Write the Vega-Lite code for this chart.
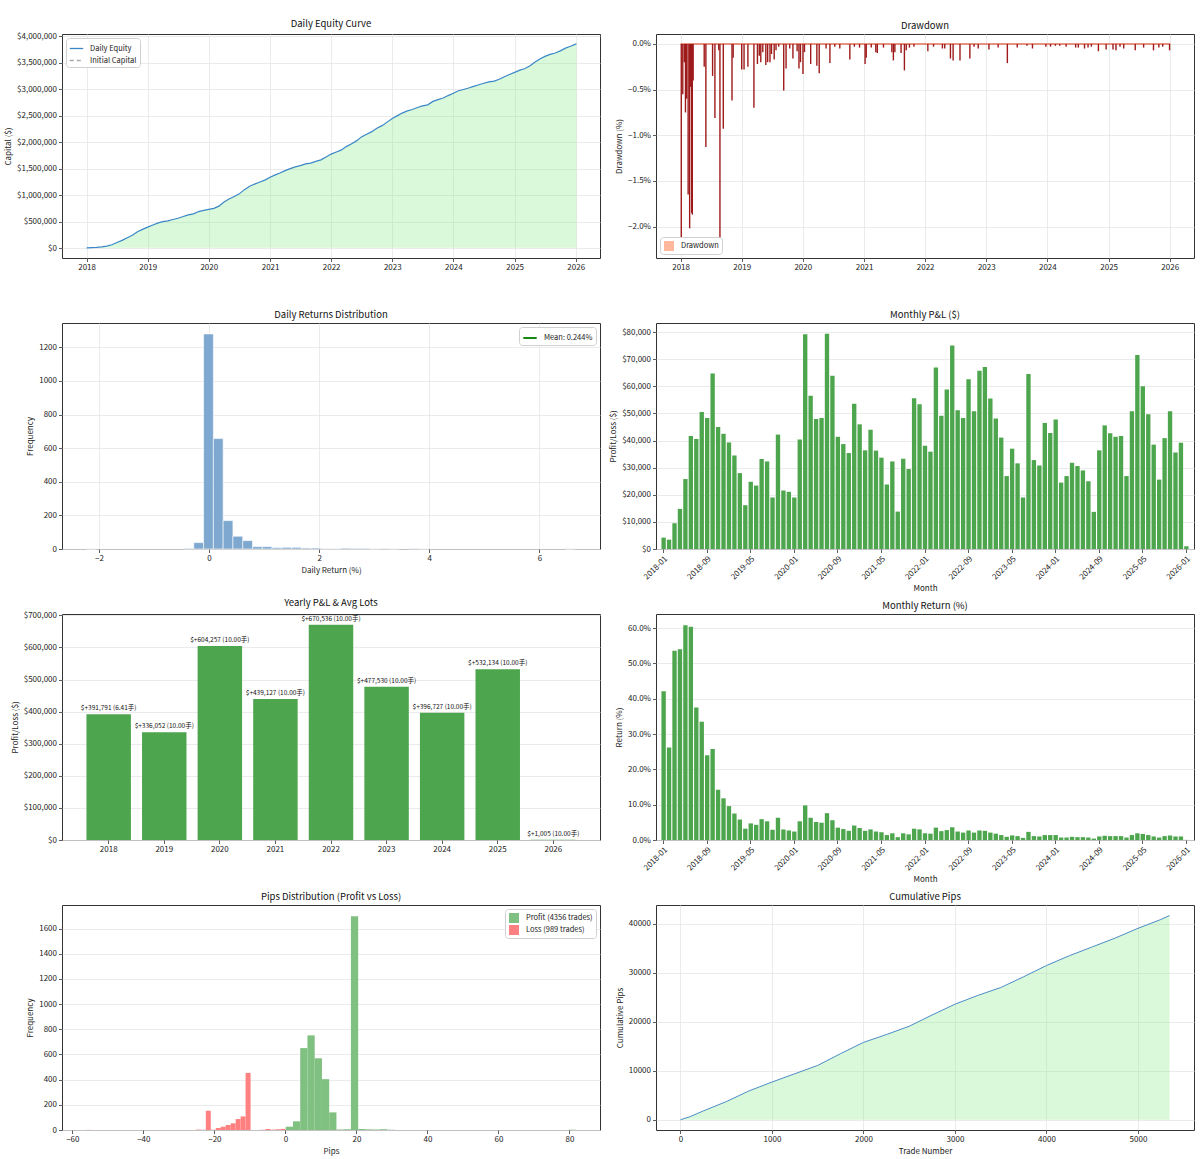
{
"$schema": "https://vega.github.io/schema/vega-lite/v6.json",
"padding": {"left": 4, "top": 18, "right": 5, "bottom": 5},
"background": "white",
"columns": 2,
"bounds": "flush",
"spacing": {"row": 65, "column": 56},
"resolve": {"scale": {"color": "independent"}, "legend": {"color": "independent"}},
"config": {
  "font": "Noto Sans CJK SC",
  "view": {"stroke": "#333", "strokeWidth": 1},
  "axis": {"labelFontSize": 8, "titleFontSize": 8, "titleFontWeight": "normal", "labelColor": "#222", "titleColor": "#222", "tickColor": "#333", "tickSize": 3.5, "tickWidth": 0.8, "gridColor": "#e6e6e6", "gridWidth": 0.8, "domain": false, "labelPadding": 2, "titlePadding": 4, "labelOverlap": false, "labelFlush": false},
  "title": {"fontSize": 9.5, "fontWeight": "normal", "offset": 4, "color": "#111", "anchor": "middle"},
  "legend": {"labelFontSize": 7.5, "labelColor": "#222", "padding": 3, "strokeColor": "#d0d0d0", "fillColor": "white", "cornerRadius": 3, "rowPadding": 1, "offset": 4, "title": null, "symbolStrokeWidth": 1.3, "labelOffset": 6}
},
"datasets": {
"monthly": [
{"m":"2018-01","pnl":4200,"ret":42.1},{"m":"2018-02","pnl":3450,"ret":26.2},{"m":"2018-03","pnl":9500,"ret":53.6},{"m":"2018-04","pnl":14800,"ret":54.0},{"m":"2018-05","pnl":25800,"ret":60.8},{"m":"2018-06","pnl":41700,"ret":60.4},{"m":"2018-07","pnl":40600,"ret":37.5},{"m":"2018-08","pnl":50500,"ret":33.5},{"m":"2018-09","pnl":48300,"ret":24.0},{"m":"2018-10","pnl":64700,"ret":25.8},{"m":"2018-11","pnl":45000,"ret":14.2},{"m":"2018-12","pnl":42500,"ret":11.8},
{"m":"2019-01","pnl":39300,"ret":9.6},{"m":"2019-02","pnl":34500,"ret":7.5},{"m":"2019-03","pnl":28000,"ret":5.8},{"m":"2019-04","pnl":16150,"ret":3.2},{"m":"2019-05","pnl":24800,"ret":4.7},{"m":"2019-06","pnl":23400,"ret":4.3},{"m":"2019-07","pnl":33200,"ret":5.9},{"m":"2019-08","pnl":32300,"ret":5.3},{"m":"2019-09","pnl":19000,"ret":2.9},{"m":"2019-10","pnl":42200,"ret":6.3},{"m":"2019-11","pnl":21600,"ret":3.0},{"m":"2019-12","pnl":21100,"ret":2.7},
{"m":"2020-01","pnl":19000,"ret":2.4},{"m":"2020-02","pnl":40400,"ret":5.3},{"m":"2020-03","pnl":79200,"ret":9.8},{"m":"2020-04","pnl":56500,"ret":6.3},{"m":"2020-05","pnl":48000,"ret":5.1},{"m":"2020-06","pnl":48300,"ret":4.9},{"m":"2020-07","pnl":79400,"ret":7.6},{"m":"2020-08","pnl":63900,"ret":5.6},{"m":"2020-09","pnl":41400,"ret":3.5},{"m":"2020-10","pnl":38700,"ret":3.1},{"m":"2020-11","pnl":35400,"ret":2.6},{"m":"2020-12","pnl":53600,"ret":4.1},
{"m":"2021-01","pnl":46000,"ret":3.4},{"m":"2021-02","pnl":36400,"ret":2.6},{"m":"2021-03","pnl":44000,"ret":3.0},{"m":"2021-04","pnl":36300,"ret":2.4},{"m":"2021-05","pnl":33700,"ret":2.2},{"m":"2021-06","pnl":23800,"ret":1.4},{"m":"2021-07","pnl":32300,"ret":1.9},{"m":"2021-08","pnl":13800,"ret":0.8},{"m":"2021-09","pnl":33300,"ret":1.9},{"m":"2021-10","pnl":29500,"ret":1.6},{"m":"2021-11","pnl":55600,"ret":3.2},{"m":"2021-12","pnl":53400,"ret":3.0},
{"m":"2022-01","pnl":38100,"ret":1.9},{"m":"2022-02","pnl":35900,"ret":1.8},{"m":"2022-03","pnl":67000,"ret":3.5},{"m":"2022-04","pnl":49200,"ret":2.5},{"m":"2022-05","pnl":58800,"ret":2.8},{"m":"2022-06","pnl":75100,"ret":3.6},{"m":"2022-07","pnl":51200,"ret":2.4},{"m":"2022-08","pnl":48300,"ret":2.1},{"m":"2022-09","pnl":62600,"ret":2.7},{"m":"2022-10","pnl":50800,"ret":2.1},{"m":"2022-11","pnl":65800,"ret":2.7},{"m":"2022-12","pnl":67100,"ret":2.6},
{"m":"2023-01","pnl":55500,"ret":2.1},{"m":"2023-02","pnl":48100,"ret":1.8},{"m":"2023-03","pnl":41100,"ret":1.4},{"m":"2023-04","pnl":26900,"ret":0.9},{"m":"2023-05","pnl":37000,"ret":1.3},{"m":"2023-06","pnl":31600,"ret":1.1},{"m":"2023-07","pnl":19000,"ret":0.6},{"m":"2023-08","pnl":64600,"ret":2.3},{"m":"2023-09","pnl":32800,"ret":1.1},{"m":"2023-10","pnl":30800,"ret":1.0},{"m":"2023-11","pnl":46500,"ret":1.4},{"m":"2023-12","pnl":42800,"ret":1.4},
{"m":"2024-01","pnl":47800,"ret":1.4},{"m":"2024-02","pnl":24500,"ret":0.7},{"m":"2024-03","pnl":26900,"ret":0.7},{"m":"2024-04","pnl":31800,"ret":0.9},{"m":"2024-05","pnl":30600,"ret":0.8},{"m":"2024-06","pnl":29000,"ret":0.8},{"m":"2024-07","pnl":25000,"ret":0.7},{"m":"2024-08","pnl":13700,"ret":0.4},{"m":"2024-09","pnl":36400,"ret":1.0},{"m":"2024-10","pnl":45600,"ret":1.2},{"m":"2024-11","pnl":42700,"ret":1.1},{"m":"2024-12","pnl":41400,"ret":1.1},
{"m":"2025-01","pnl":41700,"ret":1.1},{"m":"2025-02","pnl":26900,"ret":0.7},{"m":"2025-03","pnl":50800,"ret":1.4},{"m":"2025-04","pnl":71600,"ret":1.9},{"m":"2025-05","pnl":60000,"ret":1.7},{"m":"2025-06","pnl":49700,"ret":1.4},{"m":"2025-07","pnl":38500,"ret":1.0},{"m":"2025-08","pnl":25600,"ret":0.7},{"m":"2025-09","pnl":40900,"ret":1.1},{"m":"2025-10","pnl":50800,"ret":1.3},{"m":"2025-11","pnl":35600,"ret":1.0},{"m":"2025-12","pnl":39200,"ret":1.0},
{"m":"2026-01","pnl":1005,"ret":0.03}
],
"equity": [
{"d":"2018-01-01","eq":10000},{"d":"2018-02-01","eq":14200},{"d":"2018-03-01","eq":17650},{"d":"2018-04-01","eq":27150},{"d":"2018-05-01","eq":41950},{"d":"2018-06-01","eq":67750},{"d":"2018-07-01","eq":109450},{"d":"2018-08-01","eq":150050},{"d":"2018-09-01","eq":200550},{"d":"2018-10-01","eq":248850},{"d":"2018-11-01","eq":313550},{"d":"2018-12-01","eq":358550},
{"d":"2019-01-01","eq":401050},{"d":"2019-02-01","eq":440350},{"d":"2019-03-01","eq":474850},{"d":"2019-04-01","eq":502850},{"d":"2019-05-01","eq":519000},{"d":"2019-06-01","eq":543800},{"d":"2019-07-01","eq":567200},{"d":"2019-08-01","eq":600400},{"d":"2019-09-01","eq":632700},{"d":"2019-10-01","eq":651700},{"d":"2019-11-01","eq":693900},{"d":"2019-12-01","eq":715500},
{"d":"2020-01-01","eq":736600},{"d":"2020-02-01","eq":755600},{"d":"2020-03-01","eq":796000},{"d":"2020-04-01","eq":875200},{"d":"2020-05-01","eq":931700},{"d":"2020-06-01","eq":979700},{"d":"2020-07-01","eq":1028000},{"d":"2020-08-01","eq":1107400},{"d":"2020-09-01","eq":1171300},{"d":"2020-10-01","eq":1212700},{"d":"2020-11-01","eq":1251400},{"d":"2020-12-01","eq":1286800},
{"d":"2021-01-01","eq":1340400},{"d":"2021-02-01","eq":1386400},{"d":"2021-03-01","eq":1422800},{"d":"2021-04-01","eq":1466800},{"d":"2021-05-01","eq":1503100},{"d":"2021-06-01","eq":1536800},{"d":"2021-07-01","eq":1560600},{"d":"2021-08-01","eq":1592900},{"d":"2021-09-01","eq":1606700},{"d":"2021-10-01","eq":1640000},{"d":"2021-11-01","eq":1669500},{"d":"2021-12-01","eq":1725100},
{"d":"2022-01-01","eq":1778500},{"d":"2022-02-01","eq":1816600},{"d":"2022-03-01","eq":1852500},{"d":"2022-04-01","eq":1919500},{"d":"2022-05-01","eq":1968700},{"d":"2022-06-01","eq":2027500},{"d":"2022-07-01","eq":2102600},{"d":"2022-08-01","eq":2153800},{"d":"2022-09-01","eq":2202100},{"d":"2022-10-01","eq":2264700},{"d":"2022-11-01","eq":2315500},{"d":"2022-12-01","eq":2381300},
{"d":"2023-01-01","eq":2448400},{"d":"2023-02-01","eq":2503900},{"d":"2023-03-01","eq":2552000},{"d":"2023-04-01","eq":2593100},{"d":"2023-05-01","eq":2620000},{"d":"2023-06-01","eq":2657000},{"d":"2023-07-01","eq":2688600},{"d":"2023-08-01","eq":2707600},{"d":"2023-09-01","eq":2772200},{"d":"2023-10-01","eq":2805000},{"d":"2023-11-01","eq":2835800},{"d":"2023-12-01","eq":2882300},
{"d":"2024-01-01","eq":2925100},{"d":"2024-02-01","eq":2972900},{"d":"2024-03-01","eq":2997400},{"d":"2024-04-01","eq":3024300},{"d":"2024-05-01","eq":3056100},{"d":"2024-06-01","eq":3086700},{"d":"2024-07-01","eq":3115700},{"d":"2024-08-01","eq":3140700},{"d":"2024-09-01","eq":3154400},{"d":"2024-10-01","eq":3190800},{"d":"2024-11-01","eq":3236400},{"d":"2024-12-01","eq":3279100},
{"d":"2025-01-01","eq":3320500},{"d":"2025-02-01","eq":3362200},{"d":"2025-03-01","eq":3389100},{"d":"2025-04-01","eq":3439900},{"d":"2025-05-01","eq":3511500},{"d":"2025-06-01","eq":3571500},{"d":"2025-07-01","eq":3621200},{"d":"2025-08-01","eq":3659700},{"d":"2025-09-01","eq":3685300},{"d":"2025-10-01","eq":3726200},{"d":"2025-11-01","eq":3777000},{"d":"2025-12-01","eq":3812600},
{"d":"2026-01-01","eq":3851800},{"d":"2026-01-05","eq":3852800}
],
"dd": [
{"d":"2018-01-05","v":-2.15},{"d":"2018-01-14","v":-0.55},{"d":"2018-01-23","v":-0.2},{"d":"2018-01-30","v":-0.75},{"d":"2018-02-06","v":-0.6},{"d":"2018-02-15","v":-1.65},{"d":"2018-02-24","v":-2.02},{"d":"2018-02-28","v":-0.47},{"d":"2018-03-08","v":-1.85},{"d":"2018-03-12","v":-1.87},{"d":"2018-03-17","v":-0.4},{"d":"2018-05-22","v":-0.25},{"d":"2018-06-01","v":-1.13},{"d":"2018-07-11","v":-0.35},{"d":"2018-07-25","v":-0.81},{"d":"2018-08-17","v":-0.07},{"d":"2018-08-24","v":-2.13},{"d":"2018-09-13","v":-0.93},{"d":"2018-11-04","v":-0.62},{"d":"2018-11-11","v":-0.15},
{"d":"2019-01-01","v":-0.28},{"d":"2019-01-15","v":-0.28},{"d":"2019-02-07","v":-0.25},{"d":"2019-03-15","v":-0.7},{"d":"2019-04-05","v":-0.22},{"d":"2019-04-16","v":-0.13},{"d":"2019-04-25","v":-0.2},{"d":"2019-05-07","v":-0.09},{"d":"2019-05-25","v":-0.23},{"d":"2019-06-05","v":-0.2},{"d":"2019-06-19","v":-0.2},{"d":"2019-06-28","v":-0.11},{"d":"2019-07-14","v":-0.17},{"d":"2019-07-25","v":-0.07},{"d":"2019-08-10","v":-0.03},{"d":"2019-09-09","v":-0.51},{"d":"2019-09-23","v":-0.27},{"d":"2019-10-15","v":-0.05},{"d":"2019-11-03","v":-0.16},{"d":"2019-11-28","v":-0.08},{"d":"2019-12-09","v":-0.27},{"d":"2019-12-18","v":-0.2},
{"d":"2020-01-02","v":-0.33},{"d":"2020-01-11","v":-0.09},{"d":"2020-02-17","v":-0.22},{"d":"2020-03-25","v":-0.24},{"d":"2020-04-08","v":-0.32},{"d":"2020-05-19","v":-0.05},{"d":"2020-06-11","v":-0.21},{"d":"2020-07-10","v":-0.03},{"d":"2020-08-09","v":-0.05},{"d":"2020-10-08","v":-0.17},{"d":"2020-11-04","v":-0.03},{"d":"2020-12-05","v":-0.04},
{"d":"2021-01-07","v":-0.22},{"d":"2021-01-14","v":-0.15},{"d":"2021-02-13","v":-0.04},{"d":"2021-03-12","v":-0.09},{"d":"2021-03-21","v":-0.1},{"d":"2021-04-27","v":-0.04},{"d":"2021-06-16","v":-0.09},{"d":"2021-06-25","v":-0.18},{"d":"2021-07-04","v":-0.09},{"d":"2021-08-10","v":-0.1},{"d":"2021-08-30","v":-0.29},{"d":"2021-09-10","v":-0.07},{"d":"2021-09-29","v":-0.04},{"d":"2021-10-26","v":-0.03},
{"d":"2022-01-17","v":-0.08},{"d":"2022-02-20","v":-0.03},{"d":"2022-04-14","v":-0.05},{"d":"2022-04-28","v":-0.05},{"d":"2022-06-01","v":-0.16},{"d":"2022-06-17","v":-0.18},{"d":"2022-07-28","v":-0.18},{"d":"2022-09-25","v":-0.16},{"d":"2022-10-20","v":-0.03},{"d":"2022-11-14","v":-0.05},
{"d":"2023-01-17","v":-0.06},{"d":"2023-03-13","v":-0.04},{"d":"2023-05-07","v":-0.21},{"d":"2023-07-05","v":-0.04},{"d":"2023-09-01","v":-0.02},{"d":"2023-10-04","v":-0.05},{"d":"2023-12-23","v":-0.03},
{"d":"2024-01-20","v":-0.03},{"d":"2024-02-18","v":-0.02},{"d":"2024-03-15","v":-0.02},{"d":"2024-04-22","v":-0.03},{"d":"2024-06-18","v":-0.04},{"d":"2024-07-04","v":-0.04},{"d":"2024-08-10","v":-0.05},{"d":"2024-08-31","v":-0.04},{"d":"2024-09-20","v":-0.03},{"d":"2024-11-01","v":-0.08},{"d":"2024-12-17","v":-0.06},
{"d":"2025-01-27","v":-0.06},{"d":"2025-02-14","v":-0.07},{"d":"2025-03-10","v":-0.03},{"d":"2025-04-01","v":-0.05},{"d":"2025-06-09","v":-0.07},{"d":"2025-07-29","v":-0.04},{"d":"2025-09-26","v":-0.07},{"d":"2025-10-28","v":-0.04},{"d":"2025-11-20","v":-0.03},{"d":"2025-12-31","v":-0.07}
],
"ddline": [{"d":"2018-01-01","v":0},{"d":"2026-01-05","v":0}],
"rethist": [
{"x0":-2.23,"x1":-2.052,"c":1},{"x0":-0.454,"x1":-0.2764,"c":4},{"x0":-0.2764,"x1":-0.0988,"c":38},{"x0":-0.0988,"x1":0.0788,"c":1280},{"x0":0.0788,"x1":0.2564,"c":657},{"x0":0.2564,"x1":0.434,"c":169},{"x0":0.434,"x1":0.6116,"c":76},{"x0":0.6116,"x1":0.7892,"c":50},{"x0":0.7892,"x1":0.9668,"c":14},{"x0":0.9668,"x1":1.1444,"c":14},{"x0":1.1444,"x1":1.322,"c":8},{"x0":1.322,"x1":1.4996,"c":10},{"x0":1.4996,"x1":1.6772,"c":10},{"x0":1.6772,"x1":1.8548,"c":6},{"x0":1.8548,"x1":2.0324,"c":6},{"x0":2.0324,"x1":2.21,"c":2},{"x0":2.21,"x1":2.3876,"c":2},{"x0":2.3876,"x1":2.5652,"c":5},{"x0":2.5652,"x1":2.7428,"c":4},{"x0":2.7428,"x1":2.9204,"c":4},{"x0":2.9204,"x1":3.098,"c":1},{"x0":3.098,"x1":3.2756,"c":3},{"x0":3.2756,"x1":3.4532,"c":1},{"x0":3.6308,"x1":3.8084,"c":3},{"x0":3.8084,"x1":3.986,"c":1},{"x0":6.4724,"x1":6.65,"c":1}
],
"yearly": [
{"y":"2018","pnl":391791,"label":"$+391,791 (6.41手)"},{"y":"2019","pnl":336052,"label":"$+336,052 (10.00手)"},{"y":"2020","pnl":604257,"label":"$+604,257 (10.00手)"},{"y":"2021","pnl":439127,"label":"$+439,127 (10.00手)"},{"y":"2022","pnl":670536,"label":"$+670,536 (10.00手)"},{"y":"2023","pnl":477530,"label":"$+477,530 (10.00手)"},{"y":"2024","pnl":396727,"label":"$+396,727 (10.00手)"},{"y":"2025","pnl":532134,"label":"$+532,134 (10.00手)"},{"y":"2026","pnl":1005,"label":"$+1,005 (10.00手)"}
],
"pips": [
{"t":"Profit (4356 trades)","x0":0.1,"x1":2.14,"c":26},{"t":"Profit (4356 trades)","x0":2.14,"x1":4.18,"c":69},{"t":"Profit (4356 trades)","x0":4.18,"x1":6.22,"c":651},{"t":"Profit (4356 trades)","x0":6.22,"x1":8.26,"c":752},{"t":"Profit (4356 trades)","x0":8.26,"x1":10.3,"c":570},{"t":"Profit (4356 trades)","x0":10.3,"x1":12.34,"c":404},{"t":"Profit (4356 trades)","x0":12.34,"x1":14.38,"c":140},{"t":"Profit (4356 trades)","x0":14.38,"x1":16.42,"c":4},{"t":"Profit (4356 trades)","x0":16.42,"x1":18.46,"c":6},{"t":"Profit (4356 trades)","x0":18.46,"x1":20.5,"c":1699},{"t":"Profit (4356 trades)","x0":20.5,"x1":22.54,"c":8},{"t":"Profit (4356 trades)","x0":22.54,"x1":24.58,"c":5},{"t":"Profit (4356 trades)","x0":24.58,"x1":26.62,"c":4},{"t":"Profit (4356 trades)","x0":26.62,"x1":28.66,"c":6},{"t":"Profit (4356 trades)","x0":28.66,"x1":30.7,"c":2},{"t":"Profit (4356 trades)","x0":79.66,"x1":81.7,"c":1},
{"t":"Loss (989 trades)","x0":-56.0,"x1":-54.6,"c":1},{"t":"Loss (989 trades)","x0":-25.2,"x1":-23.8,"c":3},{"t":"Loss (989 trades)","x0":-23.8,"x1":-22.4,"c":2},{"t":"Loss (989 trades)","x0":-22.4,"x1":-21.0,"c":153},{"t":"Loss (989 trades)","x0":-21.0,"x1":-19.6,"c":2},{"t":"Loss (989 trades)","x0":-19.6,"x1":-18.2,"c":16},{"t":"Loss (989 trades)","x0":-18.2,"x1":-16.8,"c":26},{"t":"Loss (989 trades)","x0":-16.8,"x1":-15.4,"c":40},{"t":"Loss (989 trades)","x0":-15.4,"x1":-14.0,"c":53},{"t":"Loss (989 trades)","x0":-14.0,"x1":-12.6,"c":87},{"t":"Loss (989 trades)","x0":-12.6,"x1":-11.2,"c":108},{"t":"Loss (989 trades)","x0":-11.2,"x1":-9.8,"c":454},{"t":"Loss (989 trades)","x0":-7.0,"x1":-5.6,"c":2},{"t":"Loss (989 trades)","x0":-5.6,"x1":-4.2,"c":8},{"t":"Loss (989 trades)","x0":-4.2,"x1":-2.8,"c":3},{"t":"Loss (989 trades)","x0":-2.8,"x1":-1.4,"c":6},{"t":"Loss (989 trades)","x0":-1.4,"x1":0.0,"c":9}
],
"cum": [
{"n":0,"p":0},{"n":100,"p":600},{"n":250,"p":1800},{"n":500,"p":3700},{"n":750,"p":5900},{"n":1000,"p":7700},{"n":1250,"p":9400},{"n":1500,"p":11100},{"n":1750,"p":13500},{"n":2000,"p":15800},{"n":2250,"p":17400},{"n":2500,"p":19100},{"n":2750,"p":21400},{"n":3000,"p":23600},{"n":3250,"p":25400},{"n":3500,"p":27000},{"n":3750,"p":29200},{"n":4000,"p":31500},{"n":4250,"p":33500},{"n":4500,"p":35300},{"n":4750,"p":37100},{"n":5000,"p":39100},{"n":5250,"p":40900},{"n":5345,"p":41700}
]
},
"concat": [
{
  "width": 538, "height": 224, "title": "Daily Equity Curve",
  "layer": [
    {"data": {"name": "equity"}, "mark": {"type": "area", "color": "#90ee90", "opacity": 0.33},
     "encoding": {
       "x": {"field": "d", "type": "temporal", "scale": {"domain": [{"year": 2017, "month": 8, "date": 7}, {"year": 2026, "month": 5, "date": 26}]}, "axis": {"format": "%Y", "tickCount": {"interval": "year", "step": 1}, "title": null}},
       "y": {"field": "eq", "type": "quantitative", "scale": {"domain": [-182000, 4044000], "nice": false, "zero": false}, "axis": {"values": [0,500000,1000000,1500000,2000000,2500000,3000000,3500000,4000000], "format": "$,.0f", "title": "Capital ($)"}},
       "y2": {"datum": 10000}
     }},
    {"data": {"name": "equity"}, "mark": {"type": "line", "strokeWidth": 1.2},
     "encoding": {
       "x": {"field": "d", "type": "temporal", "axis": {"format": "%Y", "tickCount": {"interval": "year", "step": 1}, "title": null}},
       "y": {"field": "eq", "type": "quantitative", "axis": {"values": [0,500000,1000000,1500000,2000000,2500000,3000000,3500000,4000000], "format": "$,.0f", "title": "Capital ($)"}},
       "color": {"datum": "Daily Equity", "type": "nominal", "scale": {"domain": ["Daily Equity", "Initial Capital"], "range": ["#3a87c8", "#aaaaaa"]},
         "legend": {"orient": "top-left", "symbolType": "stroke", "symbolSize": 180, "encode": {"symbols": {"update": {"strokeDash": {"signal": "datum.value == 'Initial Capital' ? [4,3] : []"}}}}}}
     }},
    {"mark": {"type": "rule", "strokeDash": [4, 3], "strokeWidth": 1.2},
     "encoding": {"y": {"datum": 10000, "axis": {"values": [0,500000,1000000,1500000,2000000,2500000,3000000,3500000,4000000], "format": "$,.0f", "title": "Capital ($)"}}, "color": {"datum": "Initial Capital", "type": "nominal"}}}
  ]
},
{
  "width": 538, "height": 224, "title": "Drawdown",
  "layer": [
    {"data": {"name": "ddline"}, "mark": {"type": "area", "opacity": 1},
     "encoding": {
       "x": {"field": "d", "type": "temporal", "scale": {"domain": [{"year": 2017, "month": 8, "date": 7}, {"year": 2026, "month": 5, "date": 26}]}, "axis": {"format": "%Y", "tickCount": {"interval": "year", "step": 1}, "title": null}},
       "y": {"field": "v", "type": "quantitative", "scale": {"domain": [-2.345, 0.109], "nice": false, "zero": false}, "axis": {"values": [-2, -1.5, -1, -0.5, 0], "labelExpr": "format(datum.value, '.1f') + '%'", "title": "Drawdown (%)"}},
       "y2": {"datum": 0},
       "color": {"datum": "Drawdown", "type": "nominal", "scale": {"range": ["#ffb89c"]}, "legend": {"orient": "bottom-left", "symbolType": "square", "symbolSize": 100}}
     }},
    {"data": {"name": "ddline"}, "mark": {"type": "line", "color": "#e0705a", "strokeWidth": 1.5},
     "encoding": {
       "x": {"field": "d", "type": "temporal", "axis": {"format": "%Y", "tickCount": {"interval": "year", "step": 1}, "title": null}},
       "y": {"field": "v", "type": "quantitative", "axis": {"values": [-2, -1.5, -1, -0.5, 0], "labelExpr": "format(datum.value, '.1f') + '%'", "title": "Drawdown (%)"}}
     }},
    {"data": {"name": "dd"}, "mark": {"type": "rule", "strokeWidth": 1.4, "color": "#9e1a1a"},
     "encoding": {
       "x": {"field": "d", "type": "temporal", "axis": {"format": "%Y", "tickCount": {"interval": "year", "step": 1}, "title": null}},
       "y": {"field": "v", "type": "quantitative", "axis": {"values": [-2, -1.5, -1, -0.5, 0], "labelExpr": "format(datum.value, '.1f') + '%'", "title": "Drawdown (%)"}},
       "y2": {"datum": 0}
     }}
  ]
},
{
  "width": 538, "height": 226, "title": "Daily Returns Distribution",
  "layer": [
    {"data": {"name": "rethist"}, "mark": {"type": "bar", "color": "#7ea8cf", "stroke": "white", "strokeWidth": 0.6},
     "encoding": {
       "x": {"field": "x0", "type": "quantitative", "scale": {"domain": [-2.67, 7.10], "nice": false, "zero": false}, "axis": {"values": [-2, 0, 2, 4, 6], "format": "d", "title": "Daily Return (%)"}},
       "x2": {"field": "x1"},
       "y": {"field": "c", "type": "quantitative", "scale": {"domain": [0, 1345], "nice": false}, "axis": {"values": [0, 200, 400, 600, 800, 1000, 1200], "format": "d", "title": "Frequency"}},
       "y2": {"datum": 0}
     }},
    {"mark": {"type": "rule", "color": "#e04040", "strokeDash": [4, 3], "strokeWidth": 1, "opacity": 0.8},
     "encoding": {"x": {"datum": 0, "axis": {"values": [-2, 0, 2, 4, 6], "format": "d", "title": "Daily Return (%)"}}}},
    {"mark": {"type": "rule", "strokeWidth": 2},
     "encoding": {"x": {"datum": 0.244, "axis": {"values": [-2, 0, 2, 4, 6], "format": "d", "title": "Daily Return (%)"}},
       "color": {"datum": "Mean: 0.244%", "type": "nominal", "scale": {"range": ["#138a13"]}, "legend": {"orient": "top-right", "symbolType": "stroke", "symbolSize": 180, "symbolStrokeWidth": 2}}}}
  ]
},
{
  "width": 538, "height": 226, "title": "Monthly P&L ($)",
  "data": {"name": "monthly"},
  "mark": {"type": "bar", "color": "#4da64d"},
  "encoding": {
    "x": {"field": "m", "type": "ordinal", "sort": null, "scale": {"paddingInner": 0.2, "paddingOuter": 4.84},
      "axis": {"values": ["2018-01","2018-09","2019-05","2020-01","2020-09","2021-05","2022-01","2022-09","2023-05","2024-01","2024-09","2025-05","2026-01"], "labelAngle": -45, "labelAlign": "right", "labelBaseline": "top", "title": "Month", "grid": false}},
    "y": {"field": "pnl", "type": "quantitative", "scale": {"domain": [0, 83370], "nice": false}, "axis": {"values": [0,10000,20000,30000,40000,50000,60000,70000,80000], "format": "$,.0f", "title": "Profit/Loss ($)"}}
  }
},
{
  "width": 538, "height": 226, "title": "Yearly P&L & Avg Lots",
  "data": {"name": "yearly"},
  "layer": [
    {"mark": {"type": "bar", "color": "#4da64d"},
     "encoding": {
       "x": {"field": "y", "type": "ordinal", "sort": null, "scale": {"paddingInner": 0.2, "paddingOuter": 0.44}, "axis": {"labelAngle": 0, "title": null, "grid": false}},
       "y": {"field": "pnl", "type": "quantitative", "scale": {"domain": [0, 704063], "nice": false}, "axis": {"values": [0,100000,200000,300000,400000,500000,600000,700000], "format": "$,.0f", "title": "Profit/Loss ($)"}}
     }},
    {"mark": {"type": "text", "fontSize": 6.5, "baseline": "bottom", "dy": -3, "color": "#111"},
     "encoding": {
       "x": {"field": "y", "type": "ordinal", "sort": null, "axis": {"labelAngle": 0, "title": null, "grid": false}},
       "y": {"field": "pnl", "type": "quantitative", "axis": {"values": [0,100000,200000,300000,400000,500000,600000,700000], "format": "$,.0f", "title": "Profit/Loss ($)"}},
       "text": {"field": "label"}
     }}
  ]
},
{
  "width": 538, "height": 226, "title": "Monthly Return (%)",
  "data": {"name": "monthly"},
  "mark": {"type": "bar", "color": "#4da64d"},
  "encoding": {
    "x": {"field": "m", "type": "ordinal", "sort": null, "scale": {"paddingInner": 0.2, "paddingOuter": 4.84},
      "axis": {"values": ["2018-01","2018-09","2019-05","2020-01","2020-09","2021-05","2022-01","2022-09","2023-05","2024-01","2024-09","2025-05","2026-01"], "labelAngle": -45, "labelAlign": "right", "labelBaseline": "top", "title": "Month", "grid": false}},
    "y": {"field": "ret", "type": "quantitative", "scale": {"domain": [0, 64], "nice": false}, "axis": {"values": [0,10,20,30,40,50,60], "labelExpr": "format(datum.value, '.1f') + '%'", "title": "Return (%)"}}
  }
},
{
  "width": 538, "height": 225, "title": "Pips Distribution (Profit vs Loss)",
  "layer": [
    {"mark": {"type": "rule", "color": "#bbbbbb", "strokeWidth": 1},
     "encoding": {"x": {"datum": 0, "axis": {"values": [-60, -40, -20, 0, 20, 40, 60, 80], "format": "d", "title": "Pips"}}}},
    {"data": {"name": "pips"}, "mark": {"type": "bar"},
     "encoding": {
       "x": {"field": "x0", "type": "quantitative", "scale": {"domain": [-62.9, 88.6], "nice": false, "zero": false}, "axis": {"values": [-60, -40, -20, 0, 20, 40, 60, 80], "format": "d", "title": "Pips"}},
       "x2": {"field": "x1"},
       "y": {"field": "c", "type": "quantitative", "scale": {"domain": [0, 1788], "nice": false}, "axis": {"values": [0,200,400,600,800,1000,1200,1400,1600], "format": "d", "title": "Frequency"}},
       "y2": {"datum": 0},
       "color": {"field": "t", "type": "nominal", "scale": {"domain": ["Profit (4356 trades)", "Loss (989 trades)"], "range": ["#80c080", "#ff8080"]}, "legend": {"orient": "top-right", "symbolType": "square", "symbolSize": 100}}
     }}
  ]
},
{
  "width": 538, "height": 225, "title": "Cumulative Pips",
  "layer": [
    {"data": {"name": "cum"}, "mark": {"type": "area", "color": "#90ee90", "opacity": 0.33},
     "encoding": {
       "x": {"field": "n", "type": "quantitative", "scale": {"domain": [-267, 5612], "nice": false, "zero": false}, "axis": {"values": [0, 1000, 2000, 3000, 4000, 5000], "title": "Trade Number", "format": "d"}},
       "y": {"field": "p", "type": "quantitative", "scale": {"domain": [-2090, 43860], "nice": false, "zero": false}, "axis": {"values": [0, 10000, 20000, 30000, 40000], "format": "d", "title": "Cumulative Pips"}},
       "y2": {"datum": 0}
     }},
    {"data": {"name": "cum"}, "mark": {"type": "line", "color": "#4a8cc7", "strokeWidth": 1},
     "encoding": {"x": {"field": "n", "type": "quantitative", "axis": {"values": [0, 1000, 2000, 3000, 4000, 5000], "title": "Trade Number", "format": "d"}}, "y": {"field": "p", "type": "quantitative", "axis": {"values": [0, 10000, 20000, 30000, 40000], "format": "d", "title": "Cumulative Pips"}}}},
    {"mark": {"type": "rule", "color": "#222", "strokeWidth": 1},
     "encoding": {"y": {"datum": 0, "axis": {"values": [0, 10000, 20000, 30000, 40000], "format": "d", "title": "Cumulative Pips"}}}}
  ]
}
]
}
